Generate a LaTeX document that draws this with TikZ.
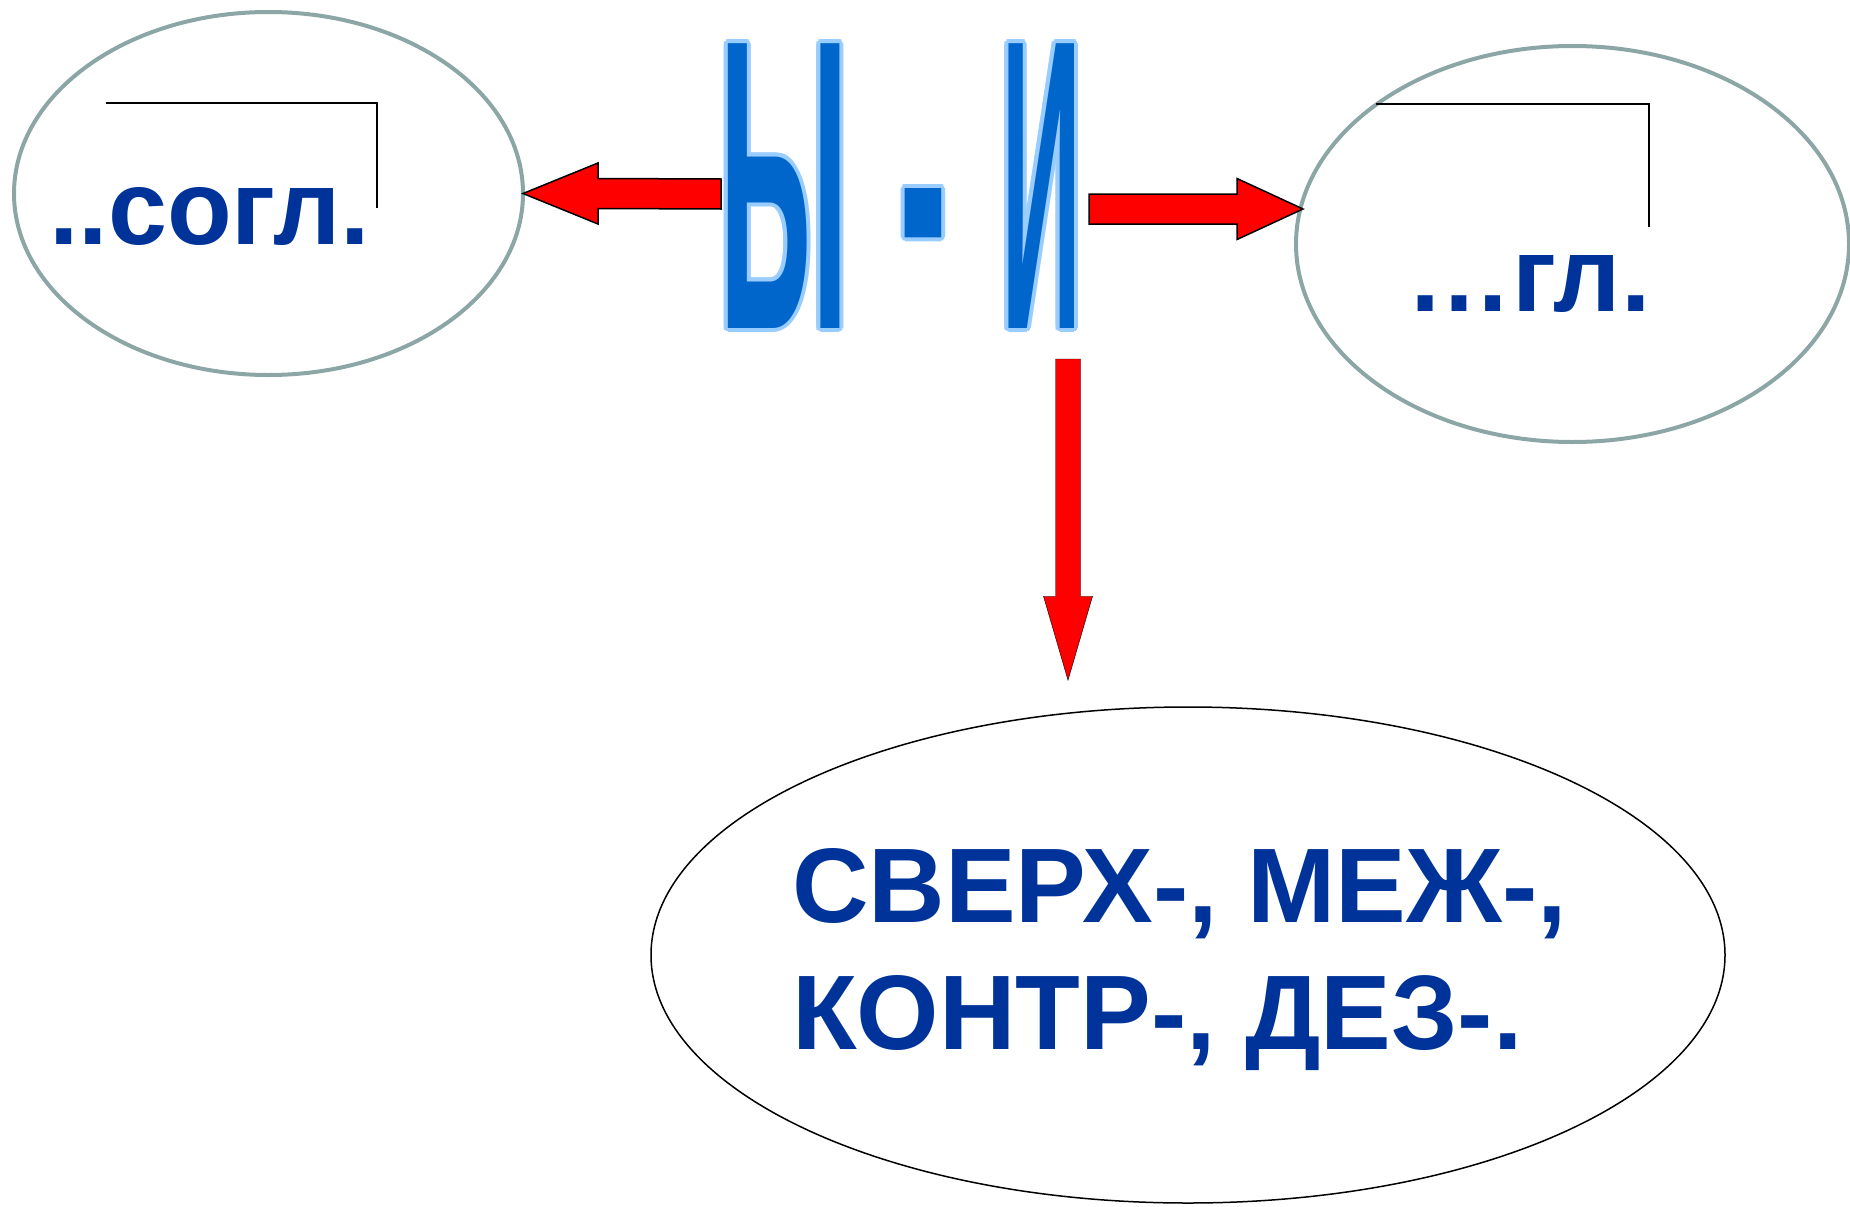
\documentclass[tikz,border=0pt]{standalone}
\usepackage{fontspec}
\setmainfont{Liberation Sans}
\usetikzlibrary{shapes.geometric}
\definecolor{bluscuro}{HTML}{003399}
\definecolor{blulettera}{HTML}{0066CC}
\definecolor{bluchiaro}{HTML}{99CCFF}
\definecolor{grigioellisse}{HTML}{8CA6A6}
\begin{document}
\begin{tikzpicture}[x=1pt,y=-1pt,
    ovale/.style={ellipse, draw=grigioellisse, line width=4pt, inner sep=0pt, outer sep=0pt},
    scritta/.style={inner sep=0pt, text=bluscuro, font=\bfseries\fontsize{106}{127}\selectfont},
    lettera/.style={inner sep=0pt, anchor=base, text=blulettera, font=\bfseries\fontsize{10}{12}\selectfont},
    contorno/.style={lettera, text=bluchiaro},
    freccia/.style={fill=red, draw=black, line width=1.5pt, line join=miter},
    frecciagiu/.style={fill=red}]
        \useasboundingbox (0,0) rectangle (1850,1207);
        %ovale sinistro
        \node[ovale, minimum width=509pt, minimum height=363pt] (sogl) at (268.5,193.5) {};
        \draw[line width=1.5pt] (106,103) --++ (271,0) --++ (0,105);
        \node[scritta, anchor=base west] (soglt) at (49,244) {..согл.};
        %ovale destro
        \node[ovale, minimum width=553pt, minimum height=396pt] (gl) at (1572.5,244) {};
        \draw[line width=1.5pt] (1376,104) --++ (273,0) --++ (0,123);
        \node[scritta, anchor=base west] (glt) at (1406,311) {…гл.};
        %ovale in basso
        \node[ellipse, draw=black, line width=1.5pt, inner sep=0pt, minimum width=1074pt, minimum height=496pt] (pref) at (1188,955) {};
        \node[scritta, anchor=base west] (pref1) at (792,922) {СВЕРХ-, МЕЖ-,};
        \node[scritta, anchor=base west] (pref2) at ([yshift=-127pt]pref1.base west) {КОНТР-, ДЕЗ-.};
        %lettere Ы - И
        \foreach \ang in {0,30,...,330} {
            \node[contorno] (yyc\ang) at ([shift={(\ang:4pt)}]784,328) {\scalebox{13.2}[41.4]{Ы}};
            \node[contorno] (tratc\ang) at ([shift={(\ang:4pt)}]923.5,320) {\scalebox{14.4}[41.4]{-}};
            \node[contorno] (iic\ang) at ([shift={(\ang:4pt)}]1041.5,328) {\scalebox{11.2}[41.4]{И}};
        }
        \node[lettera] (yy) at (784,328) {\scalebox{13.2}[41.4]{Ы}};
        \node[lettera] (trat) at (923.5,320) {\scalebox{14.4}[41.4]{-}};
        \node[lettera] (ii) at (1041.5,328) {\scalebox{11.2}[41.4]{И}};
        %frecce
        \coordinate (lsrc) at (721,194);
        \coordinate (ldst) at (sogl.east);
        \draw[freccia] ([yshift=15pt]lsrc) -- ([shift={(75pt,15pt)}]ldst) -- ([shift={(75pt,30.5pt)}]ldst) -- (ldst)
            -- ([shift={(75pt,-30.5pt)}]ldst) -- ([shift={(75pt,-15pt)}]ldst) -- ([yshift=-15pt]lsrc) -- cycle;
        \coordinate (rsrc) at (1089,209);
        \coordinate (rdst) at (1303,209);
        \draw[freccia] ([yshift=15pt]rsrc) -- ([shift={(-66pt,15pt)}]rdst) -- ([shift={(-66pt,30.5pt)}]rdst) -- (rdst)
            -- ([shift={(-66pt,-30.5pt)}]rdst) -- ([shift={(-66pt,-15pt)}]rdst) -- ([yshift=-15pt]rsrc) -- cycle;
        \coordinate (dsrc) at (1068,359);
        \coordinate (ddst) at ([yshift=26pt]dsrc |- pref.north);
        \draw[frecciagiu] ([xshift=-12.5pt]dsrc) -- ([shift={(-12.5pt,84pt)}]ddst) -- ([shift={(-24.5pt,84pt)}]ddst) -- (ddst)
            -- ([shift={(24.5pt,84pt)}]ddst) -- ([shift={(12.5pt,84pt)}]ddst) -- ([xshift=12.5pt]dsrc) -- cycle;
    \end{tikzpicture}
\end{document}
